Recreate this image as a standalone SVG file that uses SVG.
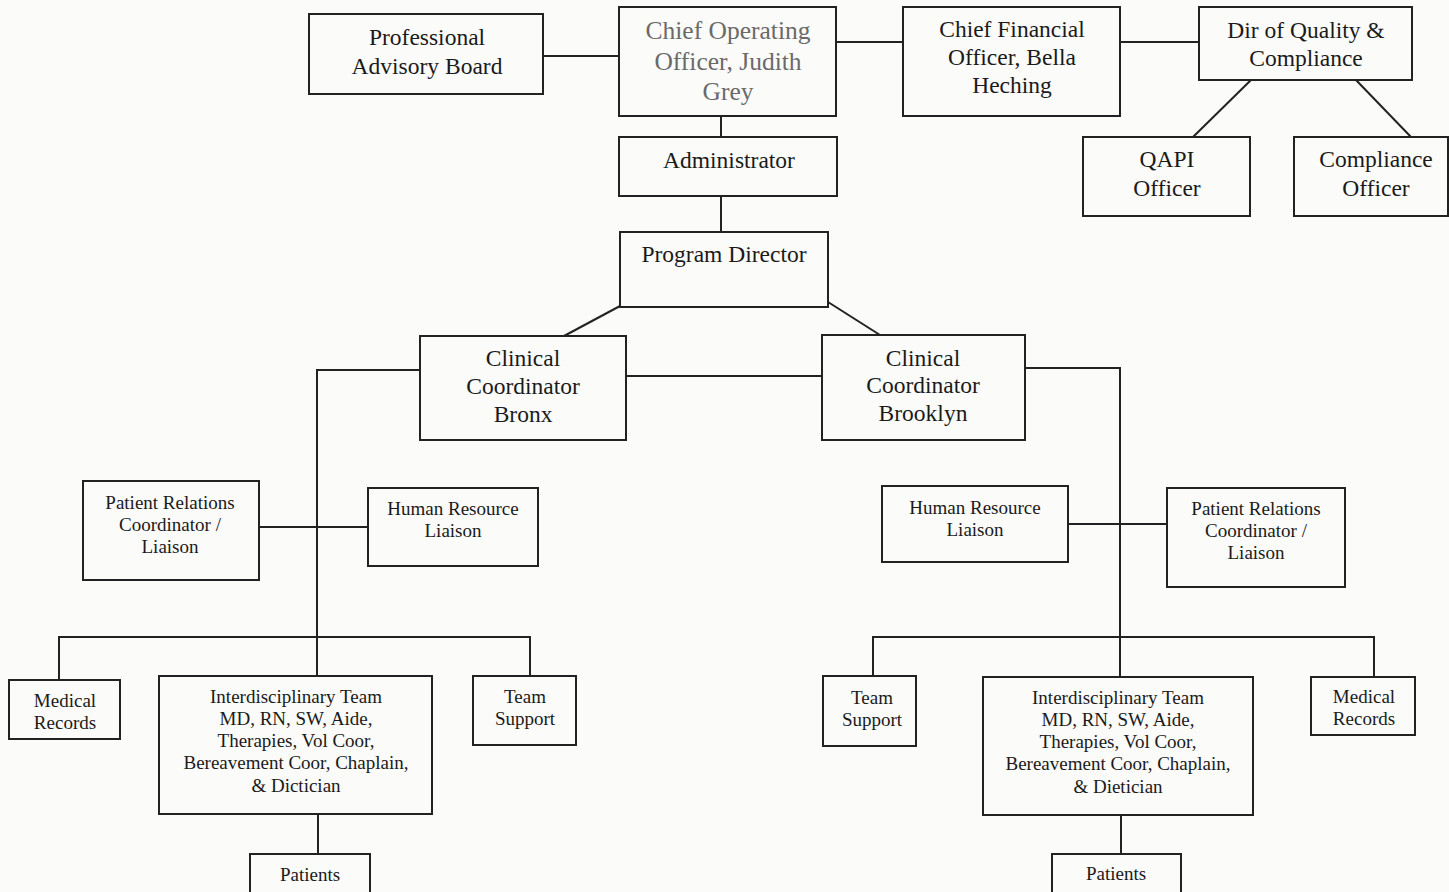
<svg xmlns="http://www.w3.org/2000/svg" width="1449" height="892" viewBox="0 0 1449 892">
  <style>
    .box { fill: none; stroke: #222; stroke-width: 2; }
    .wire { fill: none; stroke: #222; stroke-width: 2; }
    text { font-family: "Liberation Serif", "Times New Roman", serif; fill: #1a1a1a; text-anchor: middle; }
    .big { font-size: 23.5px; }
    .mid { font-size: 23.5px; }
    .small { font-size: 19px; }
    .faded { fill: #6a6a6a; font-size: 25.5px; }
  </style>
  <rect x="0" y="0" width="1449" height="892" fill="#fbfbf9"/>

  <!-- connectors -->
  <g id="connectors">
    <line class="wire" x1="543" y1="56" x2="619" y2="56"/>
    <line class="wire" x1="836" y1="42" x2="903" y2="42"/>
    <line class="wire" x1="1120" y1="42" x2="1199" y2="42"/>
    <line class="wire" x1="1251" y1="80" x2="1193" y2="137"/>
    <line class="wire" x1="1356" y1="80" x2="1411" y2="137"/>
    <line class="wire" x1="721" y1="116" x2="721" y2="137"/>
    <line class="wire" x1="721" y1="196" x2="721" y2="232"/>
    <line class="wire" x1="620" y1="306" x2="564" y2="336"/>
    <line class="wire" x1="828" y1="302" x2="880" y2="335"/>
    <line class="wire" x1="626" y1="376" x2="822" y2="376"/>
    <!-- Bronx branch -->
    <polyline class="wire" points="420,370 317,370 317,677"/>
    <line class="wire" x1="259" y1="527" x2="368" y2="527"/>
    <polyline class="wire" points="59,680 59,637 530,637 530,676"/>
    <line class="wire" x1="318" y1="814" x2="318" y2="854"/>
    <!-- Brooklyn branch -->
    <polyline class="wire" points="1025,368 1120,368 1120,677"/>
    <line class="wire" x1="1068" y1="524" x2="1167" y2="524"/>
    <polyline class="wire" points="873,676 873,637 1374,637 1374,677"/>
    <line class="wire" x1="1121" y1="815" x2="1121" y2="854"/>
  </g>

  <g id="advisory-board">
    <rect class="box" x="309" y="14" width="234" height="80"/>
    <text class="mid" x="427" y="45">Professional</text>
    <text class="mid" x="427" y="74">Advisory Board</text>
  </g>

  <g id="coo">
    <rect class="box" x="619" y="7" width="217" height="109"/>
    <text class="faded" x="728" y="39">Chief Operating</text>
    <text class="faded" x="728" y="70">Officer, Judith</text>
    <text class="faded" x="728" y="100">Grey</text>
  </g>

  <g id="cfo">
    <rect class="box" x="903" y="7" width="217" height="109"/>
    <text class="mid" x="1012" y="37">Chief Financial</text>
    <text class="mid" x="1012" y="65">Officer, Bella</text>
    <text class="mid" x="1012" y="93">Heching</text>
  </g>

  <g id="dir-quality">
    <rect class="box" x="1199" y="7" width="213" height="73"/>
    <text class="mid" x="1306" y="38">Dir of Quality &amp;</text>
    <text class="mid" x="1306" y="66">Compliance</text>
  </g>

  <g id="qapi-officer">
    <rect class="box" x="1083" y="137" width="167" height="79"/>
    <text class="mid" x="1167" y="167">QAPI</text>
    <text class="mid" x="1167" y="196">Officer</text>
  </g>

  <g id="compliance-officer">
    <rect class="box" x="1294" y="137" width="154" height="79"/>
    <text class="mid" x="1376" y="167">Compliance</text>
    <text class="mid" x="1376" y="196">Officer</text>
  </g>

  <g id="administrator">
    <rect class="box" x="619" y="137" width="218" height="59"/>
    <text class="mid" x="729" y="168">Administrator</text>
  </g>

  <g id="program-director">
    <rect class="box" x="620" y="232" width="208" height="75"/>
    <text class="mid" x="724" y="262">Program Director</text>
  </g>

  <g id="coordinator-bronx">
    <rect class="box" x="420" y="336" width="206" height="104"/>
    <text class="big" x="523" y="366">Clinical</text>
    <text class="big" x="523" y="394">Coordinator</text>
    <text class="big" x="523" y="422">Bronx</text>
  </g>

  <g id="coordinator-brooklyn">
    <rect class="box" x="822" y="335" width="203" height="105"/>
    <text class="big" x="923" y="366">Clinical</text>
    <text class="big" x="923" y="393">Coordinator</text>
    <text class="big" x="923" y="421">Brooklyn</text>
  </g>

  <!-- Bronx team -->
  <g id="patient-relations-bronx">
    <rect class="box" x="83" y="481" width="176" height="99"/>
    <text class="small" x="170" y="509">Patient Relations</text>
    <text class="small" x="170" y="531">Coordinator /</text>
    <text class="small" x="170" y="553">Liaison</text>
  </g>

  <g id="hr-liaison-bronx">
    <rect class="box" x="368" y="488" width="170" height="78"/>
    <text class="small" x="453" y="515">Human Resource</text>
    <text class="small" x="453" y="537">Liaison</text>
  </g>

  <g id="medical-records-bronx">
    <rect class="box" x="9" y="680" width="111" height="59"/>
    <text class="small" x="65" y="707">Medical</text>
    <text class="small" x="65" y="729">Records</text>
  </g>

  <g id="idt-bronx">
    <rect class="box" x="159" y="676" width="273" height="138"/>
    <text class="small" x="296" y="703">Interdisciplinary Team</text>
    <text class="small" x="296" y="725">MD, RN, SW, Aide,</text>
    <text class="small" x="296" y="747">Therapies, Vol Coor,</text>
    <text class="small" x="296" y="769">Bereavement Coor, Chaplain,</text>
    <text class="small" x="296" y="792">&amp; Dictician</text>
  </g>

  <g id="team-support-bronx">
    <rect class="box" x="473" y="676" width="103" height="69"/>
    <text class="small" x="525" y="703">Team</text>
    <text class="small" x="525" y="725">Support</text>
  </g>

  <g id="patients-bronx">
    <rect class="box" x="250" y="854" width="120" height="42"/>
    <text class="small" x="310" y="881">Patients</text>
  </g>

  <!-- Brooklyn team -->
  <g id="hr-liaison-brooklyn">
    <rect class="box" x="882" y="486" width="186" height="76"/>
    <text class="small" x="975" y="514">Human Resource</text>
    <text class="small" x="975" y="536">Liaison</text>
  </g>

  <g id="patient-relations-brooklyn">
    <rect class="box" x="1167" y="488" width="178" height="99"/>
    <text class="small" x="1256" y="515">Patient Relations</text>
    <text class="small" x="1256" y="537">Coordinator /</text>
    <text class="small" x="1256" y="559">Liaison</text>
  </g>

  <g id="team-support-brooklyn">
    <rect class="box" x="823" y="676" width="93" height="70"/>
    <text class="small" x="872" y="704">Team</text>
    <text class="small" x="872" y="726">Support</text>
  </g>

  <g id="idt-brooklyn">
    <rect class="box" x="983" y="677" width="270" height="138"/>
    <text class="small" x="1118" y="704">Interdisciplinary Team</text>
    <text class="small" x="1118" y="726">MD, RN, SW, Aide,</text>
    <text class="small" x="1118" y="748">Therapies, Vol Coor,</text>
    <text class="small" x="1118" y="770">Bereavement Coor, Chaplain,</text>
    <text class="small" x="1118" y="793">&amp; Dietician</text>
  </g>

  <g id="medical-records-brooklyn">
    <rect class="box" x="1311" y="677" width="104" height="58"/>
    <text class="small" x="1364" y="703">Medical</text>
    <text class="small" x="1364" y="725">Records</text>
  </g>

  <g id="patients-brooklyn">
    <rect class="box" x="1052" y="854" width="129" height="42"/>
    <text class="small" x="1116" y="880">Patients</text>
  </g>
</svg>
